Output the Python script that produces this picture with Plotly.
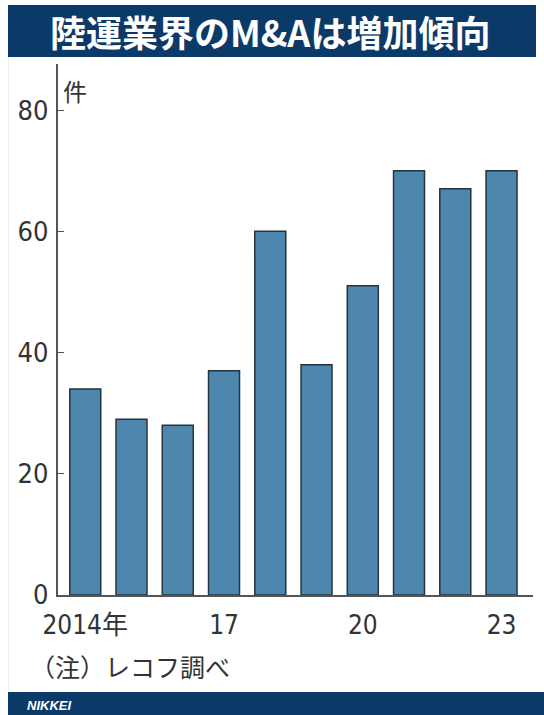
import plotly.graph_objects as go

# M&A deal counts in the land transport sector
years = ["2014", "2015", "2016", "2017", "2018", "2019", "2020", "2021", "2022", "2023"]
deals = [34, 29, 28, 37, 60, 38, 51, 70, 67, 70]

x_tick_vals = ["2014", "2017", "2020", "2023"]
x_tick_text = ["2014年", "17", "20", "23"]
y_tick_vals = [0, 20, 40, 60, 80]

title_text = "陸運業界のM&Aは増加傾向"
unit_text = "件"
note_text = "（注）レコフ調べ"
brand_text = "NIKKEI"

W, H = 544, 715
NAVY = "#0b3a69"
BAR = "#4e87ad"
EDGE = "#26343f"
AXIS = "#555555"
NUM_FONT = "Liberation Sans Narrow, DejaVu Sans Condensed, Noto Sans CJK JP, sans-serif"
JP_FONT = "Noto Sans CJK JP, sans-serif"


def px_x(p):
    return p / W


def px_y(p):
    return 1 - p / H


fig = go.Figure(
    go.Bar(
        x=years,
        y=deals,
        width=0.67,
        marker=dict(color=BAR, line=dict(color=EDGE, width=1.5)),
        hoverinfo="x+y",
    )
)

fig.update_layout(
    template="none",
    width=W,
    height=H,
    autosize=False,
    margin=dict(l=0, r=0, t=0, b=0, pad=0),
    paper_bgcolor="white",
    plot_bgcolor="white",
    showlegend=False,
    xaxis=dict(
        domain=[px_x(57.5), px_x(533)],
        range=[-0.6, 9.68],
        type="category",
        tickmode="array",
        tickvals=x_tick_vals,
        ticktext=x_tick_text,
        ticks="",
        showgrid=False,
        zeroline=False,
        showline=True,
        linecolor=AXIS,
        linewidth=1.5,
        automargin=False,
        tickfont=dict(family=NUM_FONT, size=26, color="#333333"),
        ticklabelstandoff=6,
    ),
    yaxis=dict(
        domain=[px_y(595), px_y(64)],
        range=[0, 87.6],
        tickmode="array",
        tickvals=y_tick_vals,
        ticks="inside",
        ticklen=7,
        tickwidth=1.2,
        tickcolor=AXIS,
        showgrid=False,
        zeroline=False,
        showline=True,
        linecolor=AXIS,
        linewidth=1.5,
        automargin=False,
        tickfont=dict(family=NUM_FONT, size=27, color="#333333"),
        ticklabelstandoff=2,
    ),
    shapes=[
        # title banner
        dict(type="rect", xref="paper", yref="paper",
             x0=px_x(8), x1=px_x(536), y0=px_y(57), y1=px_y(5),
             fillcolor=NAVY, line=dict(width=0), layer="below"),
        # footer banner
        dict(type="rect", xref="paper", yref="paper",
             x0=px_x(8), x1=1, y0=0, y1=px_y(692),
             fillcolor=NAVY, line=dict(width=0), layer="below"),
        # faint frame edge on the left
        dict(type="line", xref="paper", yref="paper",
             x0=px_x(8.5), x1=px_x(8.5), y0=px_y(692), y1=px_y(57),
             line=dict(color="#ececec", width=1), layer="below"),
    ],
    annotations=[
        dict(text=title_text, xref="paper", yref="paper",
             x=px_x(270), y=px_y(31), xanchor="center", yanchor="middle",
             showarrow=False,
             font=dict(family=JP_FONT, size=36, color="white", weight="bold")),
        dict(text=unit_text, xref="paper", yref="paper",
             x=px_x(61), y=px_y(91), xanchor="left", yanchor="middle",
             showarrow=False,
             font=dict(family=JP_FONT, size=24, color="#333333")),
        dict(text=note_text, xref="paper", yref="paper",
             x=px_x(28), y=px_y(666), xanchor="left", yanchor="middle",
             showarrow=False,
             font=dict(family=JP_FONT, size=25, color="#333333")),
        dict(text="<b><i>" + brand_text + "</i></b>", xref="paper", yref="paper",
             x=px_x(25), y=px_y(705), xanchor="left", yanchor="middle",
             showarrow=False,
             font=dict(family="Liberation Sans, Arial, sans-serif", size=13, color="white")),
    ],
)

fig.write_html("out.html")
